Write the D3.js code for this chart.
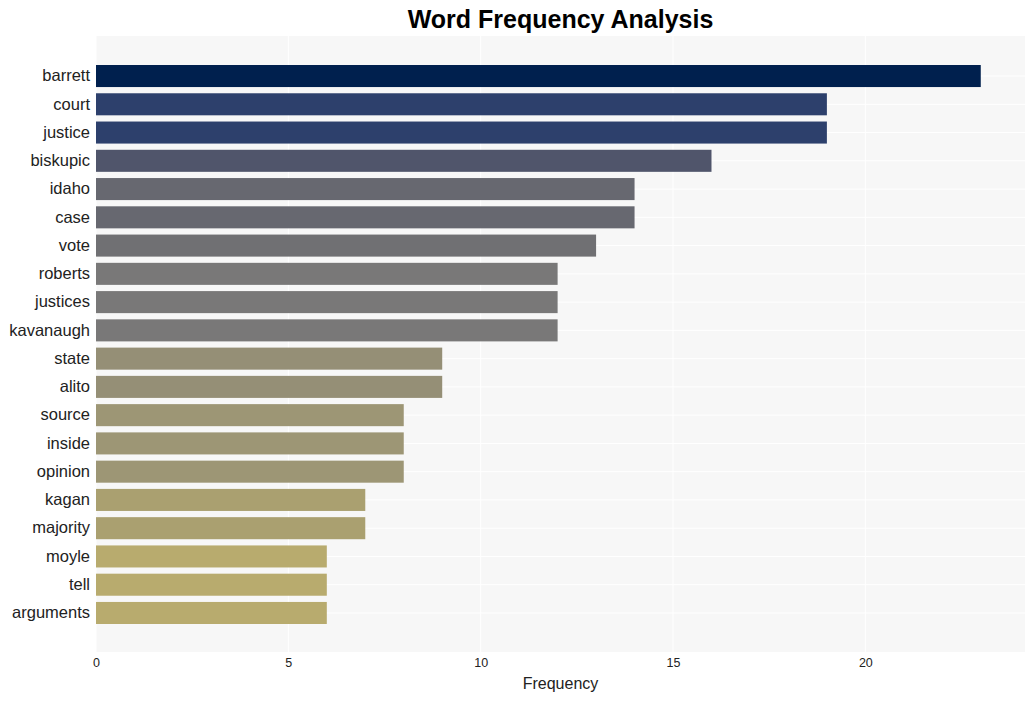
<!DOCTYPE html>
<html lang="en">
<head>
  <meta charset="utf-8">
  <title>Word Frequency Analysis</title>
  <script src="https://cdn.jsdelivr.net/npm/d3@7"></script>
  <style>
    body { margin: 0; background: #fff; }
    text { font-family: "Liberation Sans", Arial, sans-serif; }
  </style>
</head>
<body>
  <svg class="chart" width="1036" height="701"></svg>
  <script>
    var words = ["barrett", "court", "justice", "biskupic", "idaho", "case", "vote",
                 "roberts", "justices", "kavanaugh", "state", "alito", "source", "inside",
                 "opinion", "kagan", "majority", "moyle", "tell", "arguments"];
    var counts = [23, 19, 19, 16, 14, 14, 13, 12, 12, 12, 9, 9, 8, 8, 8, 7, 7, 6, 6, 6];
    var xTicks = [0, 5, 10, 15, 20];

    var width = 1036, height = 701;
    var m = { left: 96, right: 1025, top: 36, bottom: 652 };

    var svg = d3.select("svg.chart");

    var x = d3.scaleLinear()
              .domain([0, d3.max(counts) * 1.05])
              .range([m.left, m.right]);

    var y = d3.scaleBand()
              .domain(words)
              .range([61.9, 627.1])
              .paddingInner(0.22)
              .paddingOuter(0.11);

    // cividis-like ramp, high values dark blue, low values olive
    var color = d3.scaleLinear()
                  .domain([23, 19, 16, 14, 13, 12, 9, 8, 7, 6])
                  .range(["#00204e", "#2d406c", "#50556b", "#676870", "#707073",
                          "#797878", "#958f76", "#9d9675", "#aaa070", "#b8ab6e"]);

    // panel background
    svg.append("rect")
       .attr("x", m.left).attr("y", m.top)
       .attr("width", m.right - m.left).attr("height", m.bottom - m.top)
       .attr("fill", "#f7f7f7");

    // grid
    svg.append("g").selectAll("line")
       .data(xTicks)
       .join("line")
       .attr("x1", function(d) { return x(d); })
       .attr("x2", function(d) { return x(d); })
       .attr("y1", m.top).attr("y2", m.bottom)
       .attr("stroke", "#fff").attr("stroke-width", 1);

    svg.append("g").selectAll("line")
       .data(words)
       .join("line")
       .attr("x1", m.left).attr("x2", m.right)
       .attr("y1", function(d) { return y(d) + y.bandwidth() / 2; })
       .attr("y2", function(d) { return y(d) + y.bandwidth() / 2; })
       .attr("stroke", "#fff").attr("stroke-width", 1);

    // bars
    svg.append("g").selectAll("rect")
       .data(words)
       .join("rect")
       .attr("x", x(0))
       .attr("y", function(d) { return y(d); })
       .attr("width", function(d, i) { return x(counts[i]) - x(0); })
       .attr("height", y.bandwidth())
       .attr("fill", function(d, i) { return color(counts[i]); });

    // axes
    var xAxis = svg.append("g")
       .attr("transform", "translate(0," + m.bottom + ")")
       .call(d3.axisBottom(x).tickValues(xTicks).tickSize(0).tickPadding(6));
    xAxis.select(".domain").remove();
    xAxis.selectAll("text").attr("font-size", 12.5).attr("fill", "#222")
         .style("font-family", "'Liberation Sans', Arial, sans-serif");

    var yAxis = svg.append("g")
       .attr("transform", "translate(" + m.left + ",0)")
       .call(d3.axisLeft(y).tickSize(0).tickPadding(6));
    yAxis.select(".domain").remove();
    yAxis.selectAll("text").attr("font-size", 16.5).attr("fill", "#222")
         .style("font-family", "'Liberation Sans', Arial, sans-serif");

    // titles
    svg.append("text")
       .attr("x", (m.left + m.right) / 2).attr("y", 28)
       .attr("text-anchor", "middle")
       .attr("font-size", 25).attr("font-weight", "bold")
       .attr("fill", "#000")
       .text("Word Frequency Analysis");

    svg.append("text")
       .attr("x", (m.left + m.right) / 2).attr("y", 689)
       .attr("text-anchor", "middle")
       .attr("font-size", 16).attr("fill", "#222")
       .text("Frequency");
  </script>
</body>
</html>
